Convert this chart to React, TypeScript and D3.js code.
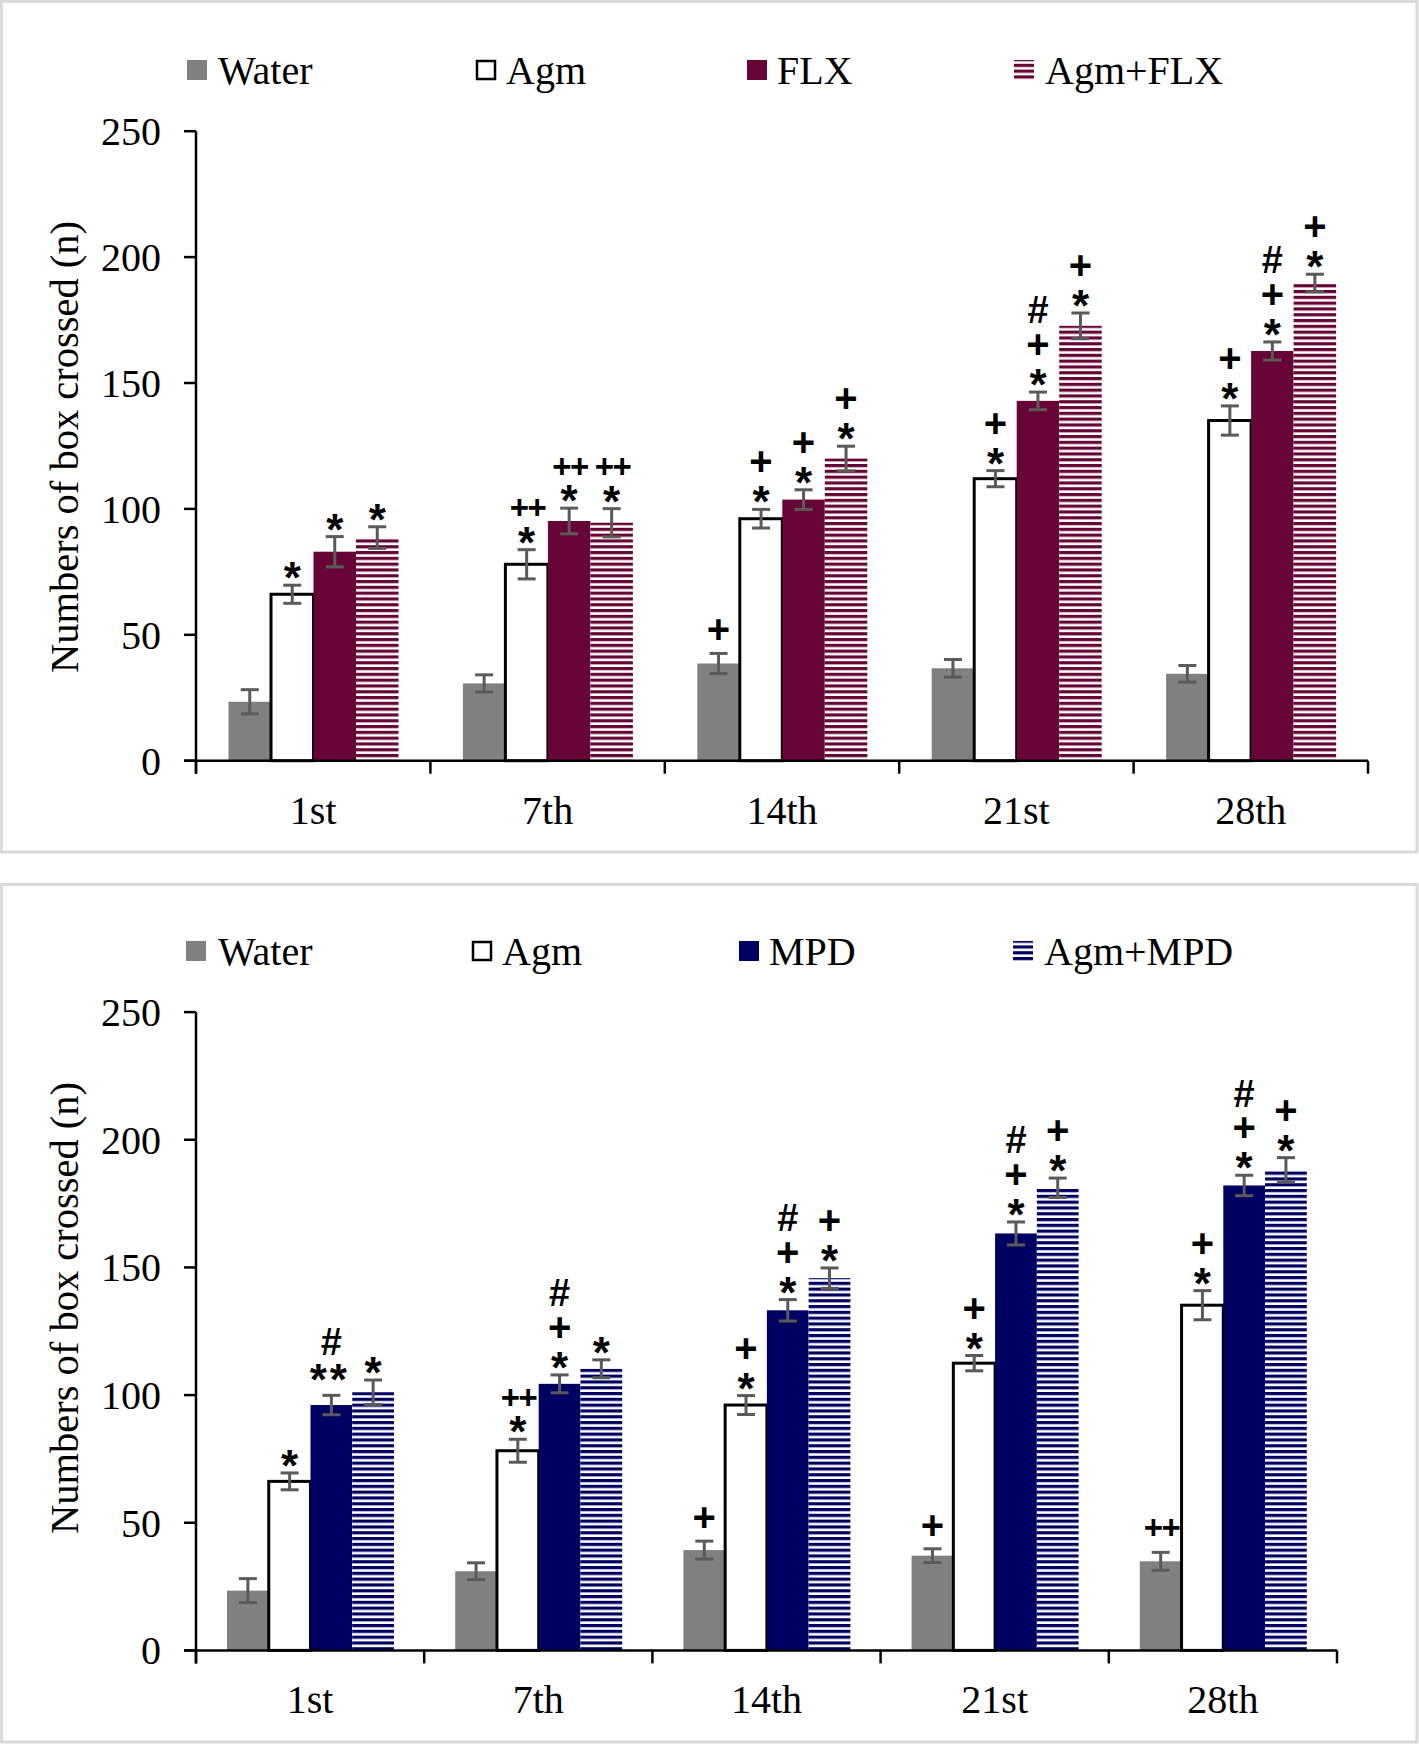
import React from "react";
import * as d3 from "d3";

const categories = ["1st", "7th", "14th", "21st", "28th"];
const yTicks = [0, 50, 100, 150, 200, 250];

// Top panel (FLX)
const topSeries = ["Water", "Agm", "FLX", "Agm+FLX"];
const topWater = [23.4, 30.7, 38.6, 36.7, 34.5];
const topWaterErr = [4.8, 3.4, 4.0, 3.5, 3.3];
const topAgm = [66.1, 78.0, 96.1, 112.0, 135.1];
const topAgmErr = [3.6, 5.8, 3.7, 3.2, 5.8];
const topFLX = [83.0, 95.2, 103.7, 142.9, 162.7];
const topFLXErr = [6.0, 5.1, 3.9, 3.5, 3.6];
const topAgmFLX = [88.6, 94.5, 120.0, 172.7, 189.7];
const topAgmFLXErr = [4.3, 5.6, 4.9, 5.1, 3.5];
const topAnnWater = [[], [], ["+"], [], []];
const topAnnAgm = [["*"], ["++", "*"], ["+", "*"], ["+", "*"], ["+", "*"]];
const topAnnFLX = [["*"], ["++", "*"], ["+", "*"], ["#", "+", "*"], ["#", "+", "*"]];
const topAnnAgmFLX = [["*"], ["++", "*"], ["+", "*"], ["+", "*"], ["+", "*"]];

// Bottom panel (MPD)
const botSeries = ["Water", "Agm", "MPD", "Agm+MPD"];
const botWater = [23.4, 31.0, 39.3, 37.1, 34.9];
const botWaterErr = [4.7, 3.3, 3.5, 2.7, 3.5];
const botAgm = [66.2, 78.2, 96.1, 112.5, 135.2];
const botAgmErr = [3.3, 4.5, 3.7, 3.0, 5.7];
const botMPD = [96.1, 104.4, 133.2, 163.3, 182.1];
const botMPDErr = [3.8, 3.5, 4.2, 4.5, 4.0];
const botAgmMPD = [101.1, 110.3, 145.8, 181.2, 188.2];
const botAgmMPDErr = [4.8, 3.5, 4.0, 3.8, 4.8];
const botAnnWater = [[], [], ["+"], ["+"], ["++"]];
const botAnnAgm = [["*"], ["++", "*"], ["+", "*"], ["+", "*"], ["+", "*"]];
const botAnnMPD = [["#", "**"], ["#", "+", "*"], ["#", "+", "*"], ["#", "+", "*"], ["#", "+", "*"]];
const botAnnAgmMPD = [["*"], ["*"], ["+", "*"], ["+", "*"], ["+", "*"]];

const GRAY = "#808080";
const MAROON = "#660536";
const NAVY = "#000062";
const ERR = "#5a5a5a";
const SERIF = "'Liberation Serif', 'Times New Roman', serif";
const SANS = "'Liberation Sans', Arial, sans-serif";

type Fill = { kind: "solid" | "open" | "stripe"; color: string; patternId?: string };

interface PanelProps {
  y0: number;
  y1: number;
  xStart: number;
  xEnd: number;
  groupOffset: number;
  groupWidth: number;
  legendY: number;
  legendItems: { label: string; fill: Fill; sx: number; tx: number }[];
  values: number[][];
  errors: number[][];
  fills: Fill[];
  annotations: string[][][];
  titleY: number;
}

function glyphOffset(s: string) {
  if (s.includes("*")) return 0.57;
  return 0.35;
}

function bottomOffset(s: string) {
  if (s === "**") return 25;
  if (s.includes("*")) return 17;
  if (s === "++") return 25;
  return 24;
}

function gap(lower: string, upper: string) {
  if (upper === "++") return 25;
  if (upper === "#") return lower === "**" ? 29 : 34;
  return 31;
}

function symSize(s: string) {
  if (s.includes("*")) return 44;
  if (s === "++") return 33;
  if (s.includes("#")) return 38;
  return 40;
}

function symSpacing(s: string) {
  if (s === "**") return 3;
  if (s === "++") return -1.5;
  return 0;
}

function Panel(p: PanelProps) {
  const y = d3.scaleLinear().domain([0, 250]).range([p.y0, p.y1]);
  const x = d3.scaleBand<string>().domain(categories).range([p.xStart, p.xEnd]).padding(0);
  const xs = d3
    .scaleBand<string>()
    .domain(["0", "1", "2", "3"])
    .range([p.groupOffset, p.groupOffset + p.groupWidth])
    .padding(0);
  const bw = xs.bandwidth();
  const boundaries = [...categories.map((c) => x(c) as number), p.xEnd];

  const fillOf = (f: Fill) =>
    f.kind === "solid" ? f.color : f.kind === "open" ? "#ffffff" : `url(#${f.patternId})`;

  return (
    <g>
      {p.values.map((vals, si) =>
        vals.map((v, ci) => {
          const bx = (x(categories[ci]) as number) + (xs(String(si)) as number);
          const f = p.fills[si];
          return (
            <rect
              key={`b${si}-${ci}`}
              x={bx}
              y={y(v)}
              width={bw}
              height={p.y0 - y(v)}
              fill={fillOf(f)}
              stroke={f.kind === "open" ? "#000" : "none"}
              strokeWidth={f.kind === "open" ? 3 : 0}
            />
          );
        })
      )}
      {p.values.map((vals, si) =>
        vals.map((v, ci) => {
          const cx = (x(categories[ci]) as number) + (xs(String(si)) as number) + bw / 2;
          const e = p.errors[si][ci];
          const yt = y(v + e);
          const yb = y(v - e);
          return (
            <g key={`e${si}-${ci}`} stroke={ERR} strokeWidth={3}>
              <line x1={cx} x2={cx} y1={yt} y2={yb} />
              <line x1={cx - 9} x2={cx + 9} y1={yt} y2={yt} />
              <line x1={cx - 9} x2={cx + 9} y1={yb} y2={yb} />
            </g>
          );
        })
      )}
      {p.annotations.map((anns, si) =>
        anns.map((lines, ci) => {
          if (!lines.length) return null;
          const cx = (x(categories[ci]) as number) + (xs(String(si)) as number) + bw / 2;
          const errTop = y(p.values[si][ci] + p.errors[si][ci]);
          const centers: number[] = new Array(lines.length);
          for (let i = lines.length - 1; i >= 0; i--) {
            if (i === lines.length - 1) centers[i] = errTop - bottomOffset(lines[i]);
            else centers[i] = centers[i + 1] - gap(lines[i + 1], lines[i]);
          }
          return (
            <text
              key={`a${si}-${ci}`}
              textAnchor="middle"
              fontFamily={SANS}
              fontWeight="bold"
              fill="#000"
            >
              {lines.map((s, i) => (
                <tspan
                  key={i}
                  x={cx - symSpacing(s) / 2}
                  y={centers[i] + glyphOffset(s) * symSize(s)}
                  fontSize={symSize(s)}
                  letterSpacing={symSpacing(s)}
                >
                  {s}
                </tspan>
              ))}
            </text>
          );
        })
      )}
      <line x1={p.xStart} x2={p.xStart} y1={p.y1} y2={p.y0 + 13} stroke="#000" strokeWidth={2.5} />
      {yTicks.map((t) => (
        <g key={`yt${t}`}>
          <line x1={p.xStart - 12} x2={p.xStart} y1={y(t)} y2={y(t)} stroke="#000" strokeWidth={2.5} />
          <text
            x={161}
            y={y(t)}
            dy="0.35em"
            textAnchor="end"
            fontFamily={SERIF}
            fontSize={40}
            fill="#000"
          >
            {t}
          </text>
        </g>
      ))}
      <line x1={p.xStart - 12} x2={p.xEnd} y1={p.y0} y2={p.y0} stroke="#000" strokeWidth={2.5} />
      {boundaries.map((b, i) => (
        <line key={`xt${i}`} x1={b} x2={b} y1={p.y0} y2={p.y0 + 13} stroke="#000" strokeWidth={2.5} />
      ))}
      {categories.map((c) => (
        <text
          key={`xl${c}`}
          x={(x(c) as number) + x.bandwidth() / 2}
          y={p.y0 + 63}
          textAnchor="middle"
          fontFamily={SERIF}
          fontSize={40}
          fill="#000"
        >
          {c}
        </text>
      ))}
      <text
        transform={`translate(78, ${p.titleY}) rotate(-90)`}
        textAnchor="middle"
        fontFamily={SERIF}
        fontSize={40.5}
        fill="#000"
      >
        Numbers of box crossed (n)
      </text>
      {p.legendItems.map((li) => (
        <g key={`lg${li.label}`}>
          <rect
            x={li.sx}
            y={p.legendY - 10}
            width={li.fill.kind === "open" ? 18 : 20}
            height={li.fill.kind === "open" ? 18 : 20}
            transform={li.fill.kind === "open" ? "translate(1,1)" : undefined}
            fill={fillOf(li.fill)}
            stroke={li.fill.kind === "open" ? "#000" : "none"}
            strokeWidth={li.fill.kind === "open" ? 2.5 : 0}
          />
          <text x={li.tx} y={p.legendY + 13.5} fontFamily={SERIF} fontSize={40} fill="#000">
            {li.label}
          </text>
        </g>
      ))}
    </g>
  );
}

export default function App() {
  const topFills: Fill[] = [
    { kind: "solid", color: GRAY },
    { kind: "open", color: "#fff" },
    { kind: "solid", color: MAROON },
    { kind: "stripe", color: MAROON, patternId: "stripeMaroon" },
  ];
  const botFills: Fill[] = [
    { kind: "solid", color: GRAY },
    { kind: "open", color: "#fff" },
    { kind: "solid", color: NAVY },
    { kind: "stripe", color: NAVY, patternId: "stripeNavy" },
  ];
  const topLegendX = [
    { sx: 187, tx: 218 },
    { sx: 476, tx: 506 },
    { sx: 747, tx: 777 },
    { sx: 1014, tx: 1045 },
  ];
  const botLegendX = [
    { sx: 186, tx: 218 },
    { sx: 472, tx: 502 },
    { sx: 739, tx: 769 },
    { sx: 1013, tx: 1044 },
  ];
  return (
    <svg
      width={1419}
      height={1744}
      style={{ position: "absolute", left: 0, top: 0, background: "#fff" }}
    >
      <defs>
        <pattern id="stripeMaroon" patternUnits="userSpaceOnUse" width={20} height={5.8}>
          <rect x={0} y={0} width={20} height={5.8} fill="#fff" />
          <rect x={0} y={0} width={20} height={3.2} fill={MAROON} />
        </pattern>
        <pattern id="stripeNavy" patternUnits="userSpaceOnUse" width={20} height={5.8}>
          <rect x={0} y={0} width={20} height={5.8} fill="#fff" />
          <rect x={0} y={0} width={20} height={3.2} fill={NAVY} />
        </pattern>
      </defs>
      <rect x={0} y={0} width={1419} height={1744} fill="#fff" />
      <rect x={1.5} y={1.5} width={1415.5} height={850.5} fill="none" stroke="#dadada" strokeWidth={3} />
      <rect x={1.5} y={884.5} width={1415.5} height={857.5} fill="none" stroke="#dadada" strokeWidth={3} />
      <Panel
        y0={760.7}
        y1={131.2}
        xStart={196}
        xEnd={1368}
        groupOffset={32.5}
        groupWidth={170}
        legendY={70}
        legendItems={topSeries.map((s, i) => ({ label: s, fill: topFills[i], ...topLegendX[i] }))}
        values={[topWater, topAgm, topFLX, topAgmFLX]}
        errors={[topWaterErr, topAgmErr, topFLXErr, topAgmFLXErr]}
        fills={topFills}
        annotations={[topAnnWater, topAnnAgm, topAnnFLX, topAnnAgmFLX]}
        titleY={447}
      />
      <Panel
        y0={1650.4}
        y1={1012.1}
        xStart={196}
        xEnd={1337}
        groupOffset={31}
        groupWidth={167}
        legendY={951}
        legendItems={botSeries.map((s, i) => ({ label: s, fill: botFills[i], ...botLegendX[i] }))}
        values={[botWater, botAgm, botMPD, botAgmMPD]}
        errors={[botWaterErr, botAgmErr, botMPDErr, botAgmMPDErr]}
        fills={botFills}
        annotations={[botAnnWater, botAnnAgm, botAnnMPD, botAnnAgmMPD]}
        titleY={1308}
      />
    </svg>
  );
}
